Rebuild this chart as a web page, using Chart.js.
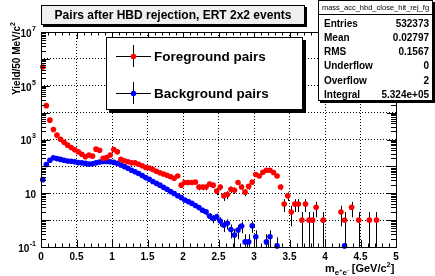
<!DOCTYPE html>
<html>
<head>
<meta charset="utf-8">
<script src="https://cdn.jsdelivr.net/npm/chart.js@4.4.0/dist/chart.umd.min.js"></script>
<style>
    html, body { margin: 0; padding: 0; background: #fff; }
    #wrap { width: 435px; height: 276px; position: relative; }
</style>
</head>
<body>
<div id="wrap"><canvas id="massChart" width="435" height="276"></canvas></div>
<script>
// bin centres of the 50 MeV/c2 histogram, 0 - 5 GeV/c2
const binCenters = [
    0.025, 0.075, 0.125, 0.175, 0.225, 0.275, 0.325, 0.375, 0.425, 0.475,
    0.525, 0.575, 0.625, 0.675, 0.725, 0.775, 0.825, 0.875, 0.925, 0.975,
    1.025, 1.075, 1.125, 1.175, 1.225, 1.275, 1.325, 1.375, 1.425, 1.475,
    1.525, 1.575, 1.625, 1.675, 1.725, 1.775, 1.825, 1.875, 1.925, 1.975,
    2.025, 2.075, 2.125, 2.175, 2.225, 2.275, 2.325, 2.375, 2.425, 2.475,
    2.525, 2.575, 2.625, 2.675, 2.725, 2.775, 2.825, 2.875, 2.925, 2.975,
    3.025, 3.075, 3.125, 3.175, 3.225, 3.275, 3.325, 3.375, 3.425, 3.475,
    3.525, 3.575, 3.625, 3.675, 3.725, 3.775, 3.825, 3.875, 3.925, 3.975,
    4.025, 4.075, 4.125, 4.175, 4.225, 4.275, 4.325, 4.375, 4.425, 4.475,
    4.525, 4.575, 4.625, 4.675, 4.725, 4.775, 4.825, 4.875, 4.925, 4.975
];

// Foreground pairs (counts, null = empty bin)
const fgYield = [
    495000, 18200, 5250, 2340, 1450, 1020, 795, 615, 500, 417,
    347, 282, 229, 263, 240, 437, 398, 200, 214, 263,
    427, 347, 182, 162, 148, 135, 135, 120, 105, 91,
    87, 76, 66, 58, 52, 47, 41, 36, 44, 20,
    25, 25, 25, 26, 17, 17, 17, 22, 20, 12,
    17, 8, 9, 14, 13, 25, 17, 11, 18, 26,
    50, 44, 60, 72, 72, 59, 44, 17, 4, 8,
    2, 4, 4, 1, 4, 1, 1, 3, null, 1,
    null, null, null, null, 2, 1, null, 3, null, 1,
    null, null, 1, null, 1, null, null, null, null, null
];

// Background pairs (normalised mixed events)
const bgYield = [
    32, 117, 170, 209, 195, 182, 170, 158, 155, 148,
    138, 135, 129, 123, 126, 135, 145, 151, 151, 148,
    141, 129, 112, 98, 85, 72, 63, 54, 46, 38,
    33, 27.5, 23.4, 20, 16.6, 14.1, 11.5, 9.8, 8.1, 6.9,
    5.6, 4.9, 4.2, 3.5, 2.95, 2.34, 2.04, 1.41, 1.15, 1.32,
    0.93, 0.65, 0.76, 0.45, 0.28, 0.43, 0.6, 0.155, 0.155, 0.62,
    0.24, null, null, 0.155, 0.24, null, 0.11, null, null, null,
    null, null, null, null, null, null, null, null, null, null,
    null, null, null, null, null, 0.11, null, null, null, null,
    null, null, null, null, null, null, null, null, null, null
];
const bgScale = 0.13; // weight of one mixed event pair

const xTickValues = [0, 0.5, 1, 1.5, 2, 2.5, 3, 3.5, 4, 4.5, 5];
const xTickLabels = ['0', '0.5', '1', '1.5', '2', '2.5', '3', '3.5', '4', '4.5', '5'];
const yDecades = [0.1, 1, 10, 100, 1e3, 1e4, 1e5, 1e6, 1e7];
const yTickLabels = [
    { value: 0.1, base: '10', exp: '-1' },
    { value: 10, base: '10', exp: '' },
    { value: 1e3, base: '10', exp: '3' },
    { value: 1e5, base: '10', exp: '5' },
    { value: 1e7, base: '10', exp: '7' }
];
const statsRows = [
    ['Entries', '532373'],
    ['Mean', '0.02797'],
    ['RMS', '0.1567'],
    ['Underflow', '0'],
    ['Overflow', '2'],
    ['Integral', '5.324e+05']
];

const FONT = '"Liberation Sans", Arial, sans-serif';

function toPoints(values) {
    const pts = [];
    values.forEach((v, i) => {
        if (v !== null) pts.push({ x: binCenters[i], y: v });
    });
    return pts;
}

function shadowBox(ctx, x, y, w, h, fill, sh) {
    ctx.fillStyle = '#000';
    ctx.fillRect(x + sh, y + sh, w, h);
    ctx.fillStyle = fill;
    ctx.fillRect(x, y, w, h);
    ctx.strokeStyle = '#000';
    ctx.lineWidth = 1;
    ctx.strokeRect(x + 0.5, y + 0.5, w - 1, h - 1);
}

function drawErrorBars(chart, values, errFn) {
    const { ctx, chartArea: a, scales: { x, y } } = chart;
    ctx.beginPath();
    values.forEach((v, i) => {
        if (v === null) return;
        const err = errFn(v);
        const px = Math.round(x.getPixelForValue(binCenters[i])) + 0.5;
        const py = y.getPixelForValue(v);
        const lo = v - err;
        const yLo = lo > 0.1 ? y.getPixelForValue(lo) : a.bottom;
        const yHi = Math.max(a.top, y.getPixelForValue(v + err));
        ctx.moveTo(px, yLo);
        ctx.lineTo(px, yHi);
        ctx.moveTo(x.getPixelForValue(binCenters[i] - 0.025), py);
        ctx.lineTo(x.getPixelForValue(binCenters[i] + 0.025), py);
    });
    ctx.stroke();
}

function drawPow(ctx, base, exp, xRight, yMid) {
    ctx.font = 'bold 10px ' + FONT;
    const wb = ctx.measureText(base).width;
    ctx.font = 'bold 7px ' + FONT;
    const we = exp ? ctx.measureText(exp).width + 0.5 : 0;
    ctx.textAlign = 'left';
    ctx.textBaseline = 'middle';
    ctx.font = 'bold 10px ' + FONT;
    ctx.fillText(base, xRight - wb - we, yMid);
    if (exp) {
        ctx.font = 'bold 7px ' + FONT;
        ctx.fillText(exp, xRight - we + 0.5, yMid - 5);
    }
}

const rootStyle = {
    id: 'rootStyle',
    beforeDatasetsDraw(chart) {
        const { ctx, chartArea: a } = chart;
        ctx.save();
        ctx.beginPath();
        ctx.rect(a.left, a.top, a.right - a.left, a.bottom - a.top);
        ctx.clip();
        ctx.strokeStyle = '#000';
        ctx.lineWidth = 1;
        drawErrorBars(chart, fgYield, v => Math.sqrt(v));
        drawErrorBars(chart, bgYield, v => Math.sqrt(v * bgScale));
        ctx.restore();
    },
    afterDraw(chart) {
        const { ctx, chartArea: a, scales: { x, y } } = chart;
        ctx.save();
        ctx.strokeStyle = '#000';
        ctx.lineWidth = 1;

        // tick marks on all four sides
        ctx.beginPath();
        for (let k = 0; k <= 50; k++) {
            const px = Math.round(x.getPixelForValue(k / 10)) + 0.5;
            const len = k % 5 === 0 ? 7 : 3.5;
            ctx.moveTo(px, a.bottom); ctx.lineTo(px, a.bottom - len);
            ctx.moveTo(px, a.top); ctx.lineTo(px, a.top + len);
        }
        yDecades.forEach((d, j) => {
            if (j === yDecades.length - 1) return;
            for (let m = 1; m <= 9; m++) {
                const py = Math.round(y.getPixelForValue(d * m)) + 0.5;
                const len = m === 1 ? 9 : 5;
                ctx.moveTo(a.left, py); ctx.lineTo(a.left + len, py);
                ctx.moveTo(a.right, py); ctx.lineTo(a.right - len, py);
            }
        });
        ctx.stroke();
        ctx.strokeRect(Math.round(a.left) + 0.5, Math.round(a.top) + 0.5,
            Math.round(a.right - a.left), Math.round(a.bottom - a.top));

        // axis labels
        ctx.fillStyle = '#000';
        ctx.font = 'bold 10px ' + FONT;
        ctx.textAlign = 'center';
        ctx.textBaseline = 'middle';
        xTickValues.forEach((v, i) => {
            ctx.fillText(xTickLabels[i], x.getPixelForValue(v), a.bottom + 10);
        });
        yTickLabels.forEach(t => drawPow(ctx, t.base, t.exp, a.left - 5, y.getPixelForValue(t.value) + 2));

        // x title: m_{e+e-} [GeV/c^2]
        ctx.textBaseline = 'alphabetic';
        ctx.textAlign = 'left';
        let cx = 325;
        const by = 272;
        ctx.font = 'bold 11px ' + FONT;
        ctx.fillText('m', cx, by);
        cx += ctx.measureText('m').width;
        const sub = [['e', 0], ['+', 1], ['e', 0], ['-', 1]];
        sub.forEach(([s, up]) => {
            ctx.font = (up ? 'bold 5.5px ' : 'bold 8px ') + FONT;
            ctx.fillText(s, cx, up ? by - 0.5 : by + 3);
            cx += ctx.measureText(s).width;
        });
        cx += 3;
        ctx.font = 'bold 11px ' + FONT;
        ctx.fillText('[GeV/c', cx, by);
        cx += ctx.measureText('[GeV/c').width;
        ctx.font = 'bold 7.5px ' + FONT;
        ctx.fillText('2', cx, by - 5);
        cx += ctx.measureText('2').width;
        ctx.font = 'bold 11px ' + FONT;
        ctx.fillText(']', cx, by);

        // y title, rotated, aligned to the top
        ctx.save();
        ctx.translate(16, 22);
        ctx.rotate(-Math.PI / 2);
        ctx.font = 'bold 7px ' + FONT;
        const w2 = ctx.measureText('2').width;
        ctx.textAlign = 'right';
        ctx.fillText('2', 0, -1);
        ctx.font = 'bold 10px ' + FONT;
        ctx.fillText('Yield/50 MeV/c', -w2, 4);
        ctx.restore();

        // title box
        shadowBox(ctx, 41, 5, 264, 20, '#efefef', 2);
        ctx.fillStyle = '#000';
        ctx.font = 'bold 12px ' + FONT;
        ctx.textAlign = 'center';
        ctx.textBaseline = 'middle';
        ctx.fillText('Pairs after HBD rejection, ERT 2x2 events', 173, 15.5);

        // legend
        shadowBox(ctx, 106, 37, 197, 73, '#fff', 3);
        const entries = [
            { label: 'Foreground pairs', color: '#ff0000', y: 56 },
            { label: 'Background pairs', color: '#0000ff', y: 93 }
        ];
        entries.forEach(e => {
            ctx.strokeStyle = '#000';
            ctx.beginPath();
            ctx.moveTo(116, e.y + 0.5); ctx.lineTo(151, e.y + 0.5);
            ctx.moveTo(133.5, e.y - 11); ctx.lineTo(133.5, e.y + 11);
            ctx.stroke();
            ctx.fillStyle = e.color;
            ctx.beginPath();
            ctx.arc(133.5, e.y + 0.5, 2.8, 0, Math.PI * 2);
            ctx.fill();
            ctx.fillStyle = '#000';
            ctx.font = 'bold 13.5px ' + FONT;
            ctx.textAlign = 'left';
            ctx.textBaseline = 'middle';
            ctx.fillText(e.label, 154, e.y + 1);
        });

        // stats box
        shadowBox(ctx, 318, 0, 115, 101, '#fff', 2);
        ctx.beginPath();
        ctx.moveTo(318, 14.5); ctx.lineTo(433, 14.5);
        ctx.stroke();
        ctx.fillStyle = '#000';
        ctx.font = '7.5px ' + FONT;
        ctx.textAlign = 'center';
        ctx.fillText('mass_acc_hbd_close_hit_rej_fg', 375.5, 7.5);
        ctx.font = 'bold 10px ' + FONT;
        statsRows.forEach((r, i) => {
            const ry = 24 + i * 14.2;
            ctx.textAlign = 'left';
            ctx.fillText(r[0], 324, ry);
            ctx.textAlign = 'right';
            ctx.fillText(r[1], 429, ry);
        });
        ctx.restore();
    }
};

const ctx = document.getElementById('massChart').getContext('2d');
new Chart(ctx, {
    type: 'scatter',
    data: {
        datasets: [{
            label: 'Foreground pairs',
            data: toPoints(fgYield),
            backgroundColor: '#ff0000',
            borderColor: '#ff0000',
            borderWidth: 0,
            pointRadius: 2.8,
            clip: false
        }, {
            label: 'Background pairs',
            data: toPoints(bgYield),
            backgroundColor: '#0000ff',
            borderColor: '#0000ff',
            borderWidth: 0,
            pointRadius: 2.8,
            clip: false
        }]
    },
    options: {
        responsive: false,
        animation: false,
        layout: { padding: { left: 41, right: 39, top: 32, bottom: 29 } },
        plugins: { legend: { display: false }, tooltip: { enabled: false } },
        scales: {
            x: {
                type: 'linear', min: 0, max: 5,
                ticks: { display: false, stepSize: 0.5 },
                grid: { color: '#000', lineWidth: 1, drawTicks: false },
                border: { display: false, dash: [1, 2] }
            },
            y: {
                type: 'logarithmic', min: 0.1, max: 1e7,
                afterBuildTicks: scale => { scale.ticks = yDecades.map(v => ({ value: v })); },
                ticks: { display: false },
                grid: { color: '#000', lineWidth: 1, drawTicks: false },
                border: { display: false, dash: [1, 2] }
            }
        }
    },
    plugins: [rootStyle]
});
</script>
</body>
</html>
